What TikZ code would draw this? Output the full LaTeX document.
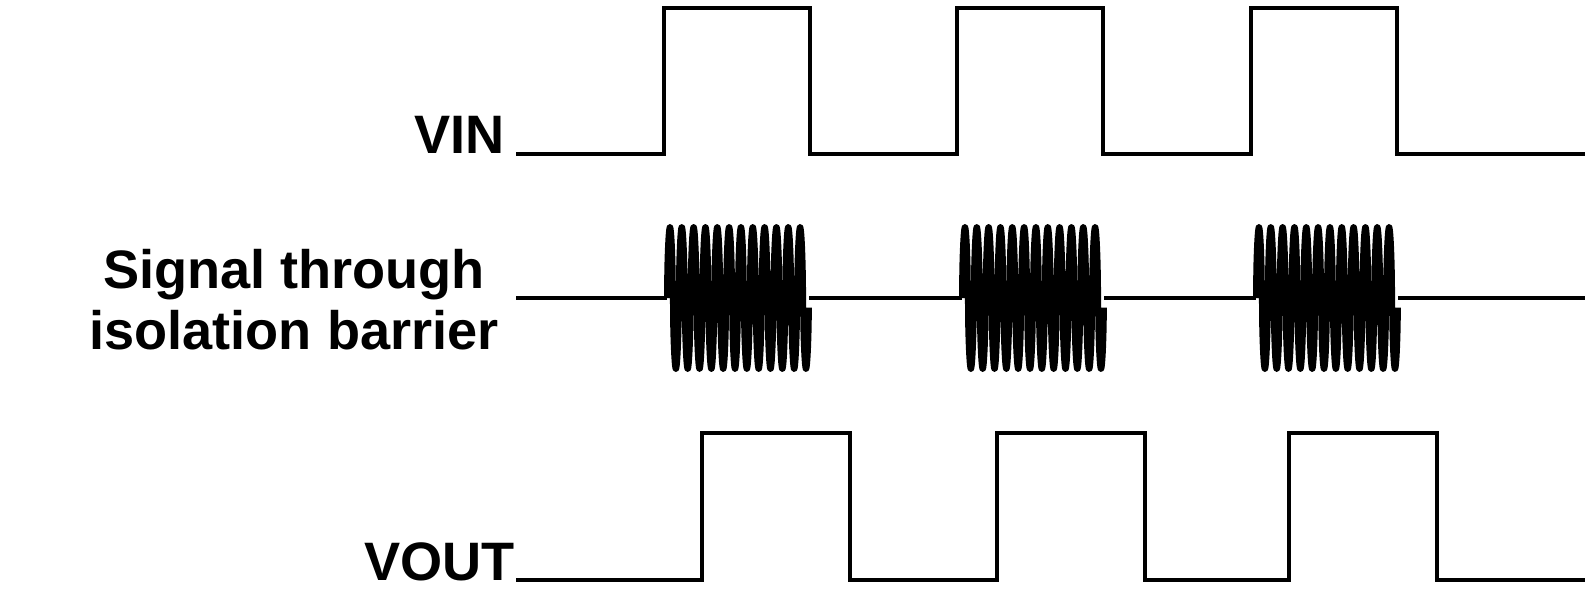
\documentclass[tikz,border=0pt]{standalone}
\usepackage{fontspec}
\setmainfont{Liberation Sans}
\tikzset{
  wave/.style={line width=0.11cm,black},
  burst/.style={line width=0.15cm,black,line join=round},
  lab/.style={font=\fontsize{38.5}{43.5}\selectfont\bfseries,inner sep=0pt},
}
\begin{document}
\begin{tikzpicture}[x=0.025cm,y=-0.025cm]
  \useasboundingbox (0,0) rectangle (1587,598);
  % labels
  \node[lab,anchor=base east] (vin) at (505,153) {VIN};
  \node[lab,align=center,anchor=north] (sig) at (294,249) {Signal through\\isolation barrier};
  \node[lab,anchor=base east] (vout) at (515,580) {VOUT};
  % input
  \draw[wave] (516,154) foreach \r in {664,957,1251} {
      -- (\r,154) -- (\r,8) -- (\r+146,8) -- (\r+146,154)} -- (1585,154);
  % carrier bursts
  \draw[wave] (516,298) -- (667,298) (809,298) -- (962,298) (1104,298) -- (1256,298)
    (1398,298) -- (1585,298);
  \foreach \b in {667,962,1256}
    \draw[burst] (\b,298) -- plot[domain=0:12,samples=481,variable=\t]
         ({\b+11.83*\t},{298-71*sign(sin(360*\t))*sqrt(abs(sin(360*\t)))});
  % output
  \draw[wave] (516,580) foreach \r in {702,997,1289} {
      -- (\r,580) -- (\r,433) -- (\r+148,433) -- (\r+148,580)} -- (1585,580);
\end{tikzpicture}
\end{document}
